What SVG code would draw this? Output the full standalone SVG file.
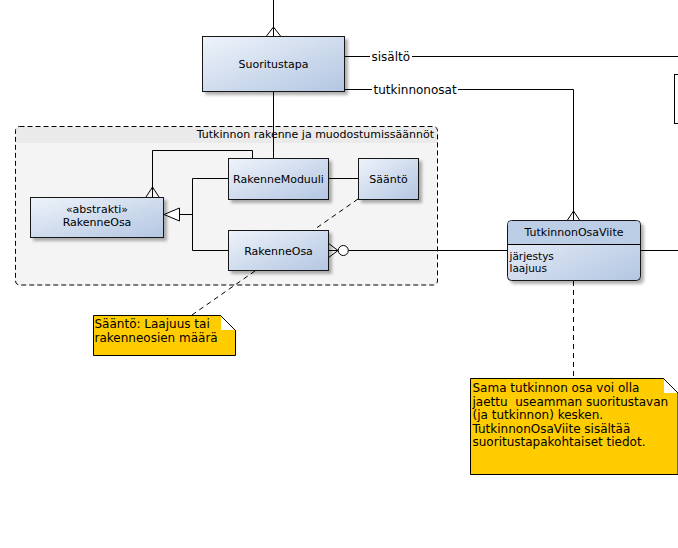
<svg xmlns="http://www.w3.org/2000/svg" width="678" height="548" viewBox="0 0 678 548">
<defs>
<linearGradient id="cg" x1="0" y1="0" x2="1" y2="1">
<stop offset="0" stop-color="#eef3fa"/>
<stop offset="1" stop-color="#b3c6e2"/>
</linearGradient>
<filter id="sh" x="-10%" y="-10%" width="130%" height="140%">
<feDropShadow dx="3" dy="3" stdDeviation="1.6" flood-color="#000" flood-opacity="0.3"/>
</filter>
<style>
text{font-family:"DejaVu Sans","Verdana",sans-serif;fill:#000}
.t{font-size:11px}
.l{font-size:12px}
.c{text-anchor:middle}
.n{font-size:12px;white-space:pre}
.a{font-size:10.5px}
.box{fill:url(#cg);stroke:#181818;stroke-width:1;filter:url(#sh)}
.ln{fill:none;stroke:#000;stroke-width:1}
.ds{fill:none;stroke:#000;stroke-width:1;stroke-dasharray:5,4}
.note{fill:#ffcc00;stroke:#000;stroke-width:1}
.fold{fill:#fff;stroke:none}
</style>
</defs>
<rect width="678" height="548" fill="#fff"/>

<g id="container">
<rect x="15.5" y="126.5" width="422" height="158.5" rx="4" fill="#f4f4f4" stroke="none"/>
<path d="M16 131 a4 4 0 0 1 4 -4 h413 a4 4 0 0 1 4 4 v12 h-421 z" fill="#eaeaea"/>
<rect x="15.5" y="126.5" width="422" height="158.5" rx="4" fill="none" stroke="#000" stroke-dasharray="5,3"/>
<text class="t" x="434" y="138" text-anchor="end">Tutkinnon rakenne ja muodostumissäännöt</text>
</g>

<g id="connectors">
<path class="ln" d="M273.5 0 V36 M266.5 36 L273.5 27 L280.5 36"/>
<path class="ln" d="M344 56.5 H678"/>
<rect x="370" y="48" width="42" height="16" fill="#fff"/>
<text class="l" x="371.5" y="60.5">sisältö</text>
<path class="ln" d="M344 89.5 H573.5 V220 M567.5 220 L573.5 211 L579.5 220"/>
<rect x="372" y="81" width="86" height="16" fill="#fff"/>
<text class="l" x="373.5" y="93.5">tutkinnonosat</text>
<path class="ln" d="M273.5 91 V158"/>
<path class="ln" d="M252.5 158 V150.5 H152.5 V197 M146 197 L152.5 187 L159 197"/>
<path class="ln" d="M228 178.5 H192.5 V250.5 H228 M192.5 214.5 H179.5"/>
<polygon points="179.5,208 164,214.5 179.5,221" fill="#fff" stroke="#000"/>
<path class="ln" d="M328 178.5 H359"/>
<path class="ds" d="M358 199 L313.6 230 M255 271 L192 315"/>
<path class="ln" d="M328 243 L338 250.5 L328 258 M328 250.5 H338 M348.3 250.5 H508"/>
<circle cx="343.3" cy="250.5" r="5" fill="#fff" stroke="#000"/>
<path class="ln" d="M641 250.5 H678"/>
<path class="ds" d="M573.5 281 V378"/>
</g>

<g id="Suoritustapa">
<rect class="box" x="202.5" y="36.5" width="142" height="55"/>
<text class="t c" x="273.5" y="68">Suoritustapa</text>
</g>

<g id="RakenneModuuli">
<rect class="box" x="228.5" y="158.5" width="100" height="41"/>
<text class="t c" x="278.5" y="182.5">RakenneModuuli</text>
</g>

<g id="Saanto">
<rect class="box" x="358.5" y="158.5" width="60" height="41"/>
<text class="t c" x="388.5" y="182.5">Sääntö</text>
</g>

<g id="RakenneOsa">
<rect class="box" x="228.5" y="230.5" width="100" height="40"/>
<text class="t c" x="278.5" y="254.5">RakenneOsa</text>
</g>

<g id="AbstraktiRakenneOsa">
<rect class="box" x="30.5" y="197.5" width="133" height="40"/>
<text class="t c" x="97" y="213">«abstrakti»</text>
<text class="t c" x="97" y="226">RakenneOsa</text>
</g>

<g id="TutkinnonOsaViite">
<rect class="box" x="507.5" y="220.5" width="133" height="60" rx="4"/>
<path d="M508 244.5 V225 a4 4 0 0 1 4 -4 h124 a4 4 0 0 1 4 4 v19.5 z" fill="#bccde6"/>
<path class="ln" d="M507.5 244.5 H640.5"/>
<text class="t c" x="574" y="236">TutkinnonOsaViite</text>
<text class="a" x="509.5" y="260">järjestys</text>
<text class="a" x="509.5" y="271.5">laajuus</text>
</g>

<g id="OffscreenNode">
<rect x="674.5" y="74.5" width="20" height="49" fill="#fff" stroke="#000"/>
</g>

<g id="Note1">
<polygon class="note" points="93.5,315.5 220.5,315.5 235.5,330.5 235.5,355.5 93.5,355.5"/>
<polygon class="fold" points="221,316 221,330 234.5,330"/>
<path class="ln" d="M220.5 315.5 L235.5 330.5"/>
<text class="n" x="94.5" y="328">Sääntö: Laajuus tai</text>
<text class="n" x="94.5" y="342">rakenneosien määrä</text>
</g>

<g id="Note2">
<polygon class="note" points="470.5,378.5 663.5,378.5 678,393 678,474.5 470.5,474.5"/>
<polygon class="fold" points="664,379 664,393 677.5,393"/>
<path class="ln" d="M663.5 378.5 L678 393"/>
<text class="n" x="472.5" y="392">Sama tutkinnon osa voi olla</text>
<text class="n" x="472.5" y="405.5">jaettu  useamman suoritustavan</text>
<text class="n" x="472.5" y="419">(ja tutkinnon) kesken.</text>
<text class="n" x="472.5" y="432.5">TutkinnonOsaViite sisältää</text>
<text class="n" x="472.5" y="446">suoritustapakohtaiset tiedot.</text>
</g>
</svg>
